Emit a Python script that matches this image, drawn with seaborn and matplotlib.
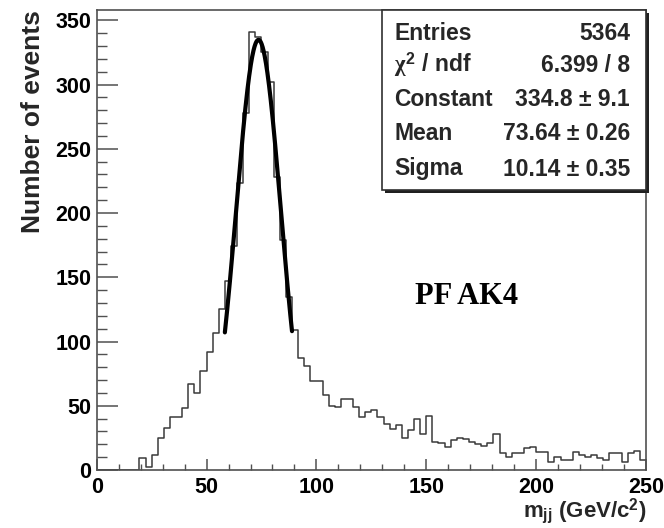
import numpy as np
import pandas as pd
import matplotlib
matplotlib.use("Agg")
import matplotlib.pyplot as plt
import seaborn as sns
from matplotlib.patches import Rectangle
from matplotlib.ticker import MultipleLocator

# ---------------- data ----------------
x_lo, x_hi, n_bins = 0.0, 250.0, 90
counts = [0, 0, 0, 0, 0, 0, 0,
          9, 2, 12, 25, 33, 41, 41, 48, 67, 60, 77, 92, 107, 125, 147,
          174, 223, 278, 341, 337, 325, 302, 228, 179, 135, 109,
          87, 81, 69, 69, 58, 50, 49, 55, 55, 49, 41, 45, 47, 41, 36, 32, 35,
          25, 31, 40, 28, 42, 22, 21,
          18, 23, 25, 24, 22, 20, 19, 21, 28, 13, 10, 13, 13, 17, 18, 14, 14,
          6, 10, 8, 8, 14, 12, 10, 12, 9, 8, 13, 13, 6, 13, 15, 8]

# Gaussian fit parameters (from the stats box) and fit range
fit_constant = 334.8
fit_mean = 73.64
fit_sigma = 10.14
fit_range = (58.33, 88.89)

stat_names = ["Entries", r"$\chi^{\mathbf{2}}$ / ndf", "Constant", "Mean", "Sigma"]
stat_values = ["5364", "6.399 / 8", "334.8 \u00b1 9.1", "73.64 \u00b1 0.26", "10.14 \u00b1 0.35"]

x_ticks = [0, 50, 100, 150, 200, 250]
y_ticks = [0, 50, 100, 150, 200, 250, 300, 350]
y_max = 358

# ---------------- style ----------------
sns.set_theme(style="ticks")
plt.rcParams["font.family"] = ["Liberation Sans", "DejaVu Sans"]
plt.rcParams["font.weight"] = "bold"
plt.rcParams["mathtext.fontset"] = "custom"
plt.rcParams["mathtext.rm"] = "Liberation Sans:bold"
plt.rcParams["mathtext.bf"] = "Liberation Sans:bold"
plt.rcParams["mathtext.it"] = "Liberation Serif"

W, H = 664, 528
fig = plt.figure(figsize=(W / 100, H / 100), dpi=100)
fig.patch.set_facecolor("white")

ax_l, ax_r, ax_t, ax_b = 96.7, 646.0, 10.0, 470.0
ax = fig.add_axes([ax_l / W, 1 - ax_b / H, (ax_r - ax_l) / W, (ax_b - ax_t) / H])
ax.set_facecolor("white")

edges = np.linspace(x_lo, x_hi, n_bins + 1)
centers = 0.5 * (edges[:-1] + edges[1:])
df = pd.DataFrame({"mjj": centers, "n": np.asarray(counts, dtype=float)})

sns.histplot(data=df, x="mjj", weights="n", bins=n_bins, binrange=(x_lo, x_hi),
             element="step", fill=False, color="#3a3a3a", linewidth=1.1, ax=ax)

fx = np.linspace(fit_range[0], fit_range[1], 200)
fy = fit_constant * np.exp(-0.5 * ((fx - fit_mean) / fit_sigma) ** 2)
sns.lineplot(x=fx, y=fy, color="black", linewidth=3.0, ax=ax, sort=False)

ax.set_xlim(x_lo, x_hi)
ax.set_ylim(0, y_max)
ax.set_xticks(x_ticks)
ax.set_yticks(y_ticks)
ax.xaxis.set_minor_locator(MultipleLocator(10))
ax.yaxis.set_minor_locator(MultipleLocator(10))

frame_col = "#505050"
for s in ax.spines.values():
    s.set_visible(True)
    s.set_color(frame_col)
    s.set_linewidth(1.2)

ax.tick_params(axis="x", which="major", direction="in", length=8, width=1.1,
               color=frame_col, labelsize=15.5, pad=5, labelcolor="black")
ax.tick_params(axis="x", which="minor", direction="in", length=4.3, width=1.0,
               color=frame_col)
ax.tick_params(axis="y", which="major", direction="in", length=15, width=1.1,
               color=frame_col, labelsize=15.5, pad=4, labelcolor="black")
ax.tick_params(axis="y", which="minor", direction="in", length=7.5, width=1.0,
               color=frame_col)
for lab in ax.get_xticklabels() + ax.get_yticklabels():
    lab.set_fontweight("bold")

ax.set_xlabel(r"m$_{\mathbf{jj}}$ (GeV/c$^{\mathbf{2}}$)", fontsize=16,
              fontweight="bold", loc="right")
ax.xaxis.set_label_coords(1.0, -0.09)
ax.xaxis.label.set_va("center")
ax.set_ylabel("Number of events", fontsize=19, fontweight="bold", loc="top")
ax.yaxis.set_label_coords(-0.116, 1.0)
ax.yaxis.label.set_va("center")

ax.text(168.5, 134.7, "PF AK4", family="Liberation Serif", fontweight="bold",
        fontsize=22, ha="center", va="center", color="black")

# ---------------- stats box ----------------
bx_l, bx_r, bx_t, bx_b = 381.7, 646.0, 10.0, 190.0
sh = 3.0
fig.patches.append(Rectangle(((bx_l + sh) / W, 1 - (bx_b + sh) / H),
                             (bx_r - bx_l) / W, (bx_b - bx_t) / H,
                             transform=fig.transFigure, facecolor="#202020",
                             edgecolor="none", zorder=5))
fig.patches.append(Rectangle((bx_l / W, 1 - bx_b / H), (bx_r - bx_l) / W,
                             (bx_b - bx_t) / H, transform=fig.transFigure,
                             facecolor="white", edgecolor="#303030",
                             linewidth=1.2, zorder=6))
row_y = [33, 65, 99, 134, 169]
for name, val, yy in zip(stat_names, stat_values, row_y):
    fig.text(394 / W, 1 - yy / H, name, fontsize=16.5, fontweight="bold",
             ha="left", va="center", zorder=7)
    fig.text(630 / W, 1 - yy / H, val, fontsize=16.5, fontweight="bold",
             ha="right", va="center", zorder=7)

fig.savefig("out.png", dpi=100, facecolor="white")
